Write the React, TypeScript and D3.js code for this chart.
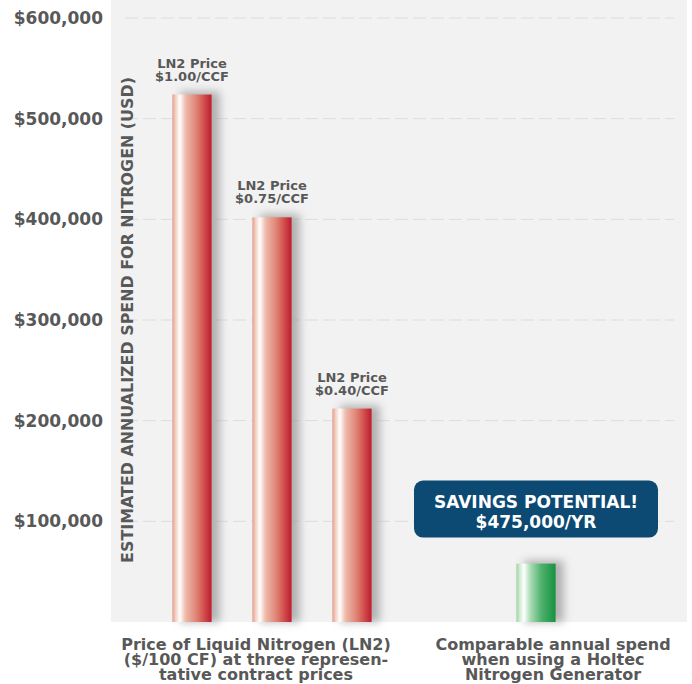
import React, { useEffect } from "react";
import * as d3 from "d3";

// chart data
const groupNames = ["ln2", "holtec"];
const groupLabels = [
  ["Price of Liquid Nitrogen (LN2)", "($/100 CF) at three represen-", "tative contract prices"],
  ["Comparable annual spend", "when using a Holtec", "Nitrogen Generator"],
];
const barNames = ["ln2-100", "ln2-075", "ln2-040", "holtec"];
const barGroup = ["ln2", "ln2", "ln2", "holtec"];
const barValues = [524000, 402000, 212000, 58000];
const barLabels = [
  ["LN2 Price", "$1.00/CCF"],
  ["LN2 Price", "$0.75/CCF"],
  ["LN2 Price", "$0.40/CCF"],
  [],
];
const yTicks = [100000, 200000, 300000, 400000, 500000, 600000];
const yTitle = "ESTIMATED ANNUALIZED SPEND FOR NITROGEN (USD)";
const savingsLines = ["SAVINGS POTENTIAL!", "$475,000/YR"];

const W = 692;
const H = 684;
const FONT = "'DejaVu Sans', sans-serif";
const GREY = "#585858";

export default function App() {
  useEffect(() => {
    document.body.style.margin = "0";
  }, []);

  const plot = { left: 111, right: 687, top: 0, bottom: 622 };

  const y = d3.scaleLinear().domain([0, 600000]).range([plot.bottom, 18]);

  const xGroup = d3
    .scaleBand<string>()
    .domain(groupNames)
    .range([116, 692])
    .paddingInner(0)
    .paddingOuter(0.0909);

  const maxCount = 3;
  const xInner = d3
    .scaleBand<number>()
    .domain(d3.range(maxCount))
    .range([-120, 120])
    .paddingInner(0.51)
    .paddingOuter(0.255);

  const fmt = (v: number) => "$" + d3.format(",")(v);

  const bars = barNames.map((name, i) => {
    const g = barGroup[i];
    const members = barNames.filter((_, j) => barGroup[j] === g);
    const k = members.indexOf(name);
    const slot = k - (members.length - 1) / 2 + (maxCount - 1) / 2;
    const cx = xGroup(g)! + xGroup.bandwidth() / 2;
    const x0 = cx + xInner(slot)!;
    return {
      name,
      x: x0,
      w: xInner.bandwidth(),
      top: y(barValues[i]),
      green: g === "holtec",
      labels: barLabels[i],
    };
  });

  const holtec = bars[bars.length - 1];
  const boxW = 244;
  const boxH = 57;
  const boxCx = holtec.x + holtec.w / 2;
  const boxBottom = holtec.top - 26;

  const labelShift: Record<string, number> = { ln2: -16, holtec: 17 };

  return (
    <svg
      width={W}
      height={H}
      style={{ position: "absolute", left: 0, top: 0, background: "#fff" }}
      fontFamily={FONT}
    >
      <defs>
        <linearGradient id="redGrad" x1="0" x2="1" y1="0" y2="0">
          <stop offset="0%" stopColor="#e49a8a" />
          <stop offset="8%" stopColor="#f3cfc4" />
          <stop offset="19%" stopColor="#ffffff" />
          <stop offset="34%" stopColor="#efb9aa" />
          <stop offset="62%" stopColor="#de8272" />
          <stop offset="88%" stopColor="#cb3a40" />
          <stop offset="100%" stopColor="#be1c2c" />
        </linearGradient>
        <linearGradient id="greenGrad" x1="0" x2="1" y1="0" y2="0">
          <stop offset="0%" stopColor="#9dd2a6" />
          <stop offset="8%" stopColor="#cdeacf" />
          <stop offset="19%" stopColor="#ffffff" />
          <stop offset="36%" stopColor="#a9dbb3" />
          <stop offset="65%" stopColor="#4cb06b" />
          <stop offset="100%" stopColor="#17923f" />
        </linearGradient>
        <filter id="shadow" x="-50%" y="-20%" width="200%" height="140%">
          <feGaussianBlur stdDeviation="4" />
        </filter>
      </defs>

      {/* plot background */}
      <rect
        x={plot.left}
        y={plot.top}
        width={plot.right - plot.left}
        height={plot.bottom - plot.top}
        fill="#f2f2f2"
      />

      {/* grid + y tick labels */}
      {yTicks.map((t) => (
        <g key={t}>
          <line
            x1={125}
            x2={674}
            y1={y(t)}
            y2={y(t)}
            stroke="#dcdcdc"
            strokeWidth={1}
            strokeDasharray="13 5"
          />
          <text
            x={103}
            y={y(t)}
            dy="0.36em"
            textAnchor="end"
            fontSize={17}
            fontWeight="bold"
            fill={GREY}
          >
            {fmt(t)}
          </text>
        </g>
      ))}

      {/* y title */}
      <text
        transform={`translate(133,${(plot.bottom + 18) / 2}) rotate(-90)`}
        textAnchor="middle"
        fontSize={15.9}
        fontWeight="bold"
        fill={GREY}
      >
        {yTitle}
      </text>

      {/* bars */}
      {bars.map((b) => (
        <g key={b.name}>
          <rect
            x={b.x + 8}
            y={b.top - 3}
            width={b.w}
            height={plot.bottom - b.top + 3}
            fill="#9a9a9a"
            opacity={0.75}
            filter="url(#shadow)"
          />
          <rect
            x={b.x}
            y={b.top}
            width={b.w}
            height={plot.bottom - b.top}
            fill={b.green ? "url(#greenGrad)" : "url(#redGrad)"}
          />
          {b.labels.map((l, j) => (
            <text
              key={j}
              x={b.x + b.w / 2}
              y={b.top - 14 - (b.labels.length - 1 - j) * 13}
              textAnchor="middle"
              fontSize={13}
              fontWeight="bold"
              fill={GREY}
            >
              {l}
            </text>
          ))}
        </g>
      ))}

      {/* savings callout */}
      <rect
        x={boxCx - boxW / 2}
        y={boxBottom - boxH}
        width={boxW}
        height={boxH}
        rx={9}
        fill="#0c4a73"
      />
      {savingsLines.map((l, j) => (
        <text
          key={l}
          x={boxCx}
          y={boxBottom - boxH + 27 + j * 20}
          textAnchor="middle"
          fontSize={17}
          fontWeight="bold"
          fill="#ffffff"
        >
          {l}
        </text>
      ))}

      {/* group labels */}
      {groupNames.map((g, i) => (
        <text
          key={g}
          x={xGroup(g)! + xGroup.bandwidth() / 2 + labelShift[g]}
          textAnchor="middle"
          fontSize={16}
          fontWeight="bold"
          fill={GREY}
        >
          {groupLabels[i].map((l, j) => (
            <tspan key={j} x={xGroup(g)! + xGroup.bandwidth() / 2 + labelShift[g]} y={650 + j * 15}>
              {l}
            </tspan>
          ))}
        </text>
      ))}
    </svg>
  );
}
